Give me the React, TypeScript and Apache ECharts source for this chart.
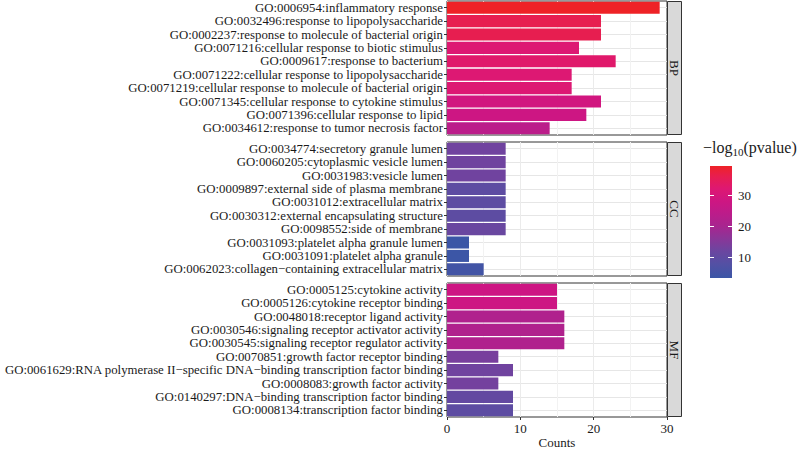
import React, { useEffect, useRef } from "react";
import * as echarts from "echarts";

const bpTerms = [
  "GO:0006954:inflammatory response",
  "GO:0032496:response to lipopolysaccharide",
  "GO:0002237:response to molecule of bacterial origin",
  "GO:0071216:cellular response to biotic stimulus",
  "GO:0009617:response to bacterium",
  "GO:0071222:cellular response to lipopolysaccharide",
  "GO:0071219:cellular response to molecule of bacterial origin",
  "GO:0071345:cellular response to cytokine stimulus",
  "GO:0071396:cellular response to lipid",
  "GO:0034612:response to tumor necrosis factor",
];
const bpCounts = [29, 21, 21, 18, 23, 17, 17, 21, 19, 14];
const bpLogP = [39.2, 35, 35, 31, 32, 31, 31, 28, 27, 23];

const ccTerms = [
  "GO:0034774:secretory granule lumen",
  "GO:0060205:cytoplasmic vesicle lumen",
  "GO:0031983:vesicle lumen",
  "GO:0009897:external side of plasma membrane",
  "GO:0031012:extracellular matrix",
  "GO:0030312:external encapsulating structure",
  "GO:0098552:side of membrane",
  "GO:0031093:platelet alpha granule lumen",
  "GO:0031091:platelet alpha granule",
  "GO:0062023:collagen\u2212containing extracellular matrix",
];
const ccCounts = [8, 8, 8, 8, 8, 8, 8, 3, 3, 5];
const ccLogP = [12, 12, 12, 9, 9, 9, 11, 3.4, 3.5, 4.5];

const mfTerms = [
  "GO:0005125:cytokine activity",
  "GO:0005126:cytokine receptor binding",
  "GO:0048018:receptor ligand activity",
  "GO:0030546:signaling receptor activator activity",
  "GO:0030545:signaling receptor regulator activity",
  "GO:0070851:growth factor receptor binding",
  "GO:0061629:RNA polymerase II\u2212specific DNA\u2212binding transcription factor binding",
  "GO:0008083:growth factor activity",
  "GO:0140297:DNA\u2212binding transcription factor binding",
  "GO:0008134:transcription factor binding",
];
const mfCounts = [15, 15, 16, 16, 16, 7, 9, 7, 9, 9];
const mfLogP = [27, 27, 21, 21, 21, 13, 12, 12.5, 10, 9];

const facetNames = ["BP", "CC", "MF"];
const xTicks = [0, 10, 20, 30];
const legendTicks = [10, 20, 30];
const colorMin = 3.4;
const colorMax = 39.2;

// colour ramp (value -> colour) approximating the reference gradient
const rampValues = [3.4, 8, 12, 16, 20, 24, 28, 32, 36, 39.2];
const rampColors = [
  "#3B56A6", "#5450A4", "#6B46A0", "#8A3698", "#A8258F",
  "#BC1C8A", "#CE1682", "#DE1872", "#E81E4E", "#EE2226",
];

const FONT = "Liberation Serif";
const TEXT = "#1a1a1a";
const LABEL_SIZE = 12.8;

export default function App() {
  const ref = useRef<HTMLDivElement>(null);
  useEffect(() => {
    document.body.style.margin = "0";
    if (!ref.current) return;
    const chart = echarts.init(ref.current, null, { renderer: "svg" });

    const facets = [
      { terms: bpTerms, counts: bpCounts, logp: bpLogP },
      { terms: ccTerms, counts: ccCounts, logp: ccLogP },
      { terms: mfTerms, counts: mfCounts, logp: mfLogP },
    ];
    const panelTops = [1, 142, 283];
    const panelH = 134;
    const left = 447;
    const panelW = 220;

    const grids = facets.map((_, i) => ({
      left,
      top: panelTops[i],
      width: panelW,
      height: panelH,
      show: true,
      containLabel: false,
      outerBoundsMode: "none",
      backgroundColor: "#fff",
      borderColor: "#333",
      borderWidth: 1,
      z: 0,
    }));

    const xAxes = facets.map((_, i) => {
      const last = i === facets.length - 1;
      return {
        type: "value",
        gridIndex: i,
        min: xTicks[0],
        max: xTicks[xTicks.length - 1],
        interval: 10,
        axisLine: { show: false },
        axisTick: { show: last, length: 3, lineStyle: { color: "#333" } },
        axisLabel: {
          show: last,
          fontSize: 13,
          color: TEXT,
          fontFamily: FONT,
          margin: 5,
        },
        splitLine: { show: true, lineStyle: { color: "#EBEBEB", width: 1 } },
        minorTick: { show: false, splitNumber: 2 },
        minorSplitLine: { show: true, lineStyle: { color: "#F2F2F2", width: 1 } },
        name: last ? "Counts" : "",
        nameLocation: "middle",
        nameGap: 25,
        nameTextStyle: {
          fontSize: 13,
          lineHeight: 10,
          verticalAlign: "middle",
          color: TEXT,
          fontFamily: FONT,
        },
      };
    });

    const yAxes = facets.map((f, i) => ({
      type: "category",
      gridIndex: i,
      inverse: true,
      data: f.terms,
      axisLine: { show: false },
      axisTick: { show: true, length: 3, alignWithLabel: true, interval: 0, lineStyle: { color: "#333" } },
      axisLabel: {
        fontSize: LABEL_SIZE,
        lineHeight: 13,
        color: TEXT,
        fontFamily: FONT,
        margin: 4,
        interval: 0,
        hideOverlap: false,
      },
      splitLine: { show: true, alignWithLabel: true, interval: 0, lineStyle: { color: "#E6E6E6", width: 1 } },
    }));

    const series = facets.map((f, i) => ({
      type: "bar",
      xAxisIndex: i,
      yAxisIndex: i,
      barCategoryGap: "10%",
      encode: { x: 0, y: 1 },
      data: f.counts.map((c, j) => [c, f.terms[j], f.logp[j]]),
    }));

    const stops = rampValues.map((v, k) => ({
      offset: (v - colorMin) / (colorMax - colorMin),
      color: rampColors[k],
    }));

    const barX = 710;
    const barTop = 166;
    const barH = 112;
    const barW = 22;
    const valToY = (v: number) => barTop + barH - ((v - colorMin) / (colorMax - colorMin)) * barH;

    const graphics: any[] = [];
    facetNames.forEach((name, i) => {
      graphics.push({
        type: "rect",
        shape: { x: 667.5, y: panelTops[i] + 0.5, width: 14, height: panelH - 1 },
        style: { fill: "#D9D9D9", stroke: "#333", lineWidth: 1 },
        z: 10,
      });
      graphics.push({
        type: "text",
        x: 674.5,
        y: panelTops[i] + panelH / 2,
        rotation: -Math.PI / 2,
        style: {
          text: name,
          fontSize: 13,
          fontFamily: FONT,
          fill: TEXT,
          align: "center",
          verticalAlign: "middle",
        },
        z: 11,
      });
    });
    graphics.push({
      type: "text",
      x: 703,
      y: 147,
      style: {
        text: "{a|\u2212log}{s|10}{a|(pvalue)}",
        fontFamily: FONT,
        fill: TEXT,
        align: "left",
        verticalAlign: "middle",
        rich: {
          a: { fontSize: 16, fontFamily: FONT, fill: TEXT, lineHeight: 20, verticalAlign: "middle" },
          s: { fontSize: 11, fontFamily: FONT, fill: TEXT, lineHeight: 11, verticalAlign: "bottom" },
        },
      },
    });
    graphics.push({
      type: "rect",
      shape: { x: barX, y: barTop, width: barW, height: barH },
      style: {
        fill: { type: "linear", x: 0, y: 1, x2: 0, y2: 0, colorStops: stops },
      },
    });
    legendTicks.forEach((v) => {
      const y = Math.round(valToY(v)) + 0.5;
      graphics.push({
        type: "line",
        shape: { x1: barX, y1: y, x2: barX + 4, y2: y },
        style: { stroke: "#fff", lineWidth: 1 },
      });
      graphics.push({
        type: "line",
        shape: { x1: barX + barW - 4, y1: y, x2: barX + barW, y2: y },
        style: { stroke: "#fff", lineWidth: 1 },
      });
      graphics.push({
        type: "text",
        x: barX + barW + 6,
        y: y,
        style: {
          text: String(v),
          fontSize: 13,
          fontFamily: FONT,
          fill: TEXT,
          align: "left",
          verticalAlign: "middle",
        },
      });
    });

    chart.setOption({
      animation: false,
      textStyle: { fontFamily: FONT },
      grid: grids,
      xAxis: xAxes,
      yAxis: yAxes,
      visualMap: {
        type: "continuous",
        show: false,
        min: colorMin,
        max: colorMax,
        dimension: 2,
        seriesIndex: [0, 1, 2],
        inRange: { color: rampColors },
      },
      series,
      graphic: graphics,
    } as any);

    return () => chart.dispose();
  }, []);
  return <div ref={ref} style={{ width: 800, height: 449 }} />;
}
